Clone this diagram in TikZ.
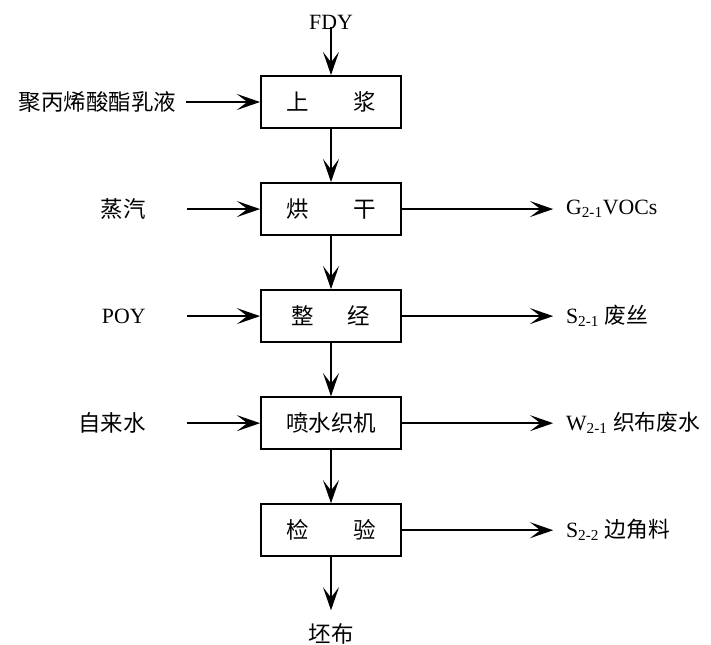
\documentclass[tikz,border=0pt]{standalone}
\usepackage{fontspec}
\setmainfont{Liberation Serif}
\newfontfamily\cjk{Noto Sans CJK SC}
\usetikzlibrary{positioning,arrows.meta}
\tikzset{
  procbox/.style={draw,line width=1.3pt,minimum width=3.5cm,minimum height=1.3cm,inner sep=2pt,font=\cjk\fontsize{16}{18}\selectfont},
  flowarr/.style={-{Stealth[length=5.8mm,width=4mm,inset=2.6mm]},line width=1.2pt},
  sidetext/.style={inner sep=1pt,font=\fontsize{15.5}{18}\selectfont},
  cjktext/.style={inner sep=1pt,font=\cjk\fontsize{16}{18}\selectfont}
}
\begin{document}
\begin{tikzpicture}[x=0.025cm,y=-0.025cm,node distance=1.33cm]
  \useasboundingbox (0,0) rectangle (711,645);
  % process chain
  \node[procbox] (sizing) at (331,102) {上\hspace{2em}浆};
  \node[procbox,below=of sizing] (drying) {烘\hspace{2em}干};
  \node[procbox,below=of drying] (warping) {整\hspace{1.5em}经};
  \node[procbox,below=of warping] (weaving) {喷水织机};
  \node[procbox,below=of weaving] (inspect) {检\hspace{2em}验};
  \node[sidetext] (fdy) at (331,22) {FDY};
  \coordinate[below=1.33cm of inspect.south] (clothout);
  \node[cjktext,below=0.3cm of clothout] (cloth) {坯布};
  % inputs on the left
  \coordinate[left=1.85cm of sizing.west] (emulin);
  \coordinate[left=1.82cm of drying.west] (steamin);
  \coordinate[left=1.82cm of warping.west] (poyin);
  \coordinate[left=1.82cm of weaving.west] (waterin);
  \node[cjktext,left=0.2cm of emulin] (emul) {聚丙烯酸酯乳液};
  \node[cjktext,left=1.0cm of steamin] (steam) {蒸汽};
  \node[sidetext,left=1.0cm of poyin] (poy) {POY};
  \node[cjktext,left=1.0cm of waterin] (water) {自来水};
  % outputs on the right
  \coordinate[right=3.78cm of drying.east] (gasout);
  \coordinate[right=3.78cm of warping.east] (silkout);
  \coordinate[right=3.78cm of weaving.east] (wasteout);
  \coordinate[right=3.78cm of inspect.east] (trimout);
  \node[sidetext,right=0.28cm of gasout] (voc) {G\textsubscript{2-1}VOCs};
  \node[sidetext,right=0.28cm of silkout] (silk) {S\textsubscript{2-1} {\cjk 废丝}};
  \node[sidetext,right=0.28cm of wasteout] (waste) {W\textsubscript{2-1} {\cjk 织布废水}};
  \node[sidetext,right=0.28cm of trimout] (trim) {S\textsubscript{2-2} {\cjk 边角料}};
  \draw[flowarr] (fdy.center) ++(0,5) -- (sizing);
  \draw[flowarr] (sizing) -- (drying);
  \draw[flowarr] (drying) -- (warping);
  \draw[flowarr] (warping) -- (weaving);
  \draw[flowarr] (weaving) -- (inspect);
  \draw[flowarr] (inspect) -- (clothout);
  \draw[flowarr] (emulin) -- (sizing);
  \draw[flowarr] (steamin) -- (drying);
  \draw[flowarr] (poyin) -- (warping);
  \draw[flowarr] (waterin) -- (weaving);
  \draw[flowarr] (drying) -- (gasout);
  \draw[flowarr] (warping) -- (silkout);
  \draw[flowarr] (weaving) -- (wasteout);
  \draw[flowarr] (inspect) -- (trimout);
\end{tikzpicture}
\end{document}
